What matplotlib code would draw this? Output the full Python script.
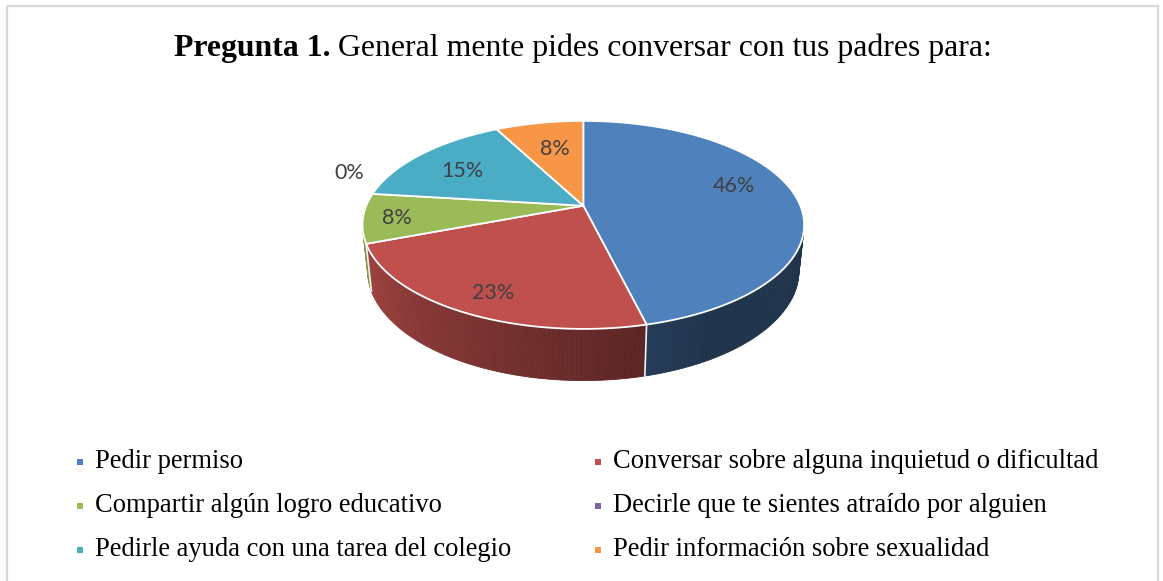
import numpy as np
import matplotlib
matplotlib.use("Agg")
import matplotlib.pyplot as plt
from matplotlib.patches import Polygon, Rectangle
from matplotlib.colors import to_rgb

# ---------------- data ----------------
categories = [
    "Pedir permiso",
    "Conversar sobre alguna inquietud o dificultad",
    "Compartir algún logro educativo",
    "Decirle que te sientes atraído por alguien",
    "Pedirle ayuda con una tarea del colegio",
    "Pedir información sobre sexualidad",
]
counts = [6, 3, 1, 0, 2, 1]
colors = ["#4F81BD", "#C0504D", "#9BBB59", "#8064A2", "#4BACC6", "#F79646"]
title_bold = "Pregunta 1."
title_rest = " General mente pides conversar con tus padres para:"

# label placement style (radius fraction, angular offset in degrees)
label_r = [0.75, 0.83, 0.85, 1.2, 0.70, 0.65]
label_dth = [-9, -2, -1, 10, -3, 1]

# ---------------- figure ----------------
W, H = 1163, 581
fig = plt.figure(figsize=(W / 100, H / 100), dpi=100)
ax = fig.add_axes([0, 0, 1, 1])
ax.set_xlim(0, W)
ax.set_ylim(H, 0)
ax.axis("off")

ax.add_patch(Rectangle((6.5, 5.5), 1151.5, 620, fill=False, ec="#D9D9D9", lw=1.6))

# 3D pie geometry (pixel space)
CX, CY, R = 583.3, 205.7, 217.0
SA = 0.463
CA = np.sqrt(1 - SA ** 2)
DIST = 4.80
DEPTH = 0.24


def proj(theta_deg, r=1.0, h=0.0):
    th = np.radians(theta_deg)
    u = r * np.sin(th)
    v = -r * np.cos(th)
    s = -v * SA + h * CA
    t = v * CA + h * SA
    k = DIST / (DIST - t)
    return CX + u * k * R, CY - s * k * R


def shade(th):
    return 0.40 + 0.43 * np.clip((th - 150.0) / 100.0, 0, 1)


total = float(sum(counts))
fracs = [c / total for c in counts]
starts = np.concatenate([[0], np.cumsum(fracs)[:-1]]) * 360
ends = np.cumsum(fracs) * 360

vmin = 1.0 / (DIST * CA)
th_lo = np.degrees(np.arccos(-vmin))
th_hi = 360 - th_lo

# sides
for i, (a0, a1) in enumerate(zip(starts, ends)):
    if counts[i] == 0:
        continue
    lo, hi = max(a0, th_lo), min(a1, th_hi)
    if hi <= lo:
        continue
    n = max(2, int(np.ceil(hi - lo)))
    ths = np.linspace(lo, hi, n + 1)
    base = np.array(to_rgb(colors[i]))
    for t1, t2 in zip(ths[:-1], ths[1:]):
        col = np.clip(base * shade(0.5 * (t1 + t2)), 0, 1)
        pts = [proj(t1), proj(t2), proj(t2, h=-DEPTH), proj(t1, h=-DEPTH)]
        ax.add_patch(Polygon(pts, closed=True, fc=col, ec=col, lw=0.6))
# side boundaries
for a in starts:
    if th_lo < a < th_hi:
        p1, p2 = proj(a), proj(a, h=-DEPTH)
        ax.plot([p1[0], p2[0]], [p1[1], p2[1]], color="#F2F2F2", lw=1.2)

# top faces
for i, (a0, a1) in enumerate(zip(starts, ends)):
    if counts[i] == 0:
        continue
    n = max(4, int(np.ceil((a1 - a0) * 2)))
    ths = np.linspace(a0, a1, n + 1)
    pts = [(CX, CY)] + [proj(t) for t in ths]
    ax.add_patch(Polygon(pts, closed=True, fc=colors[i], ec="white", lw=1.3,
                         joinstyle="round"))

# data labels
for i, (a0, a1) in enumerate(zip(starts, ends)):
    mid = 0.5 * (a0 + a1) + label_dth[i]
    x, y = proj(mid, r=label_r[i])
    ax.text(x, y, f"{round(100 * fracs[i])}%", ha="center", va="center",
            fontsize=15.5, color="#404040", family="Lato")

# title
fig.canvas.draw()
r = fig.canvas.get_renderer()
t1 = ax.text(0, 56, title_bold, fontsize=22.9, fontweight="bold",
             family="Liberation Serif", va="baseline", ha="left", color="black")
t2 = ax.text(0, 56, title_rest, fontsize=22.9, family="Liberation Serif",
             va="baseline", ha="left", color="black")
w1 = t1.get_window_extent(r).width
w2 = t2.get_window_extent(r).width
x0 = 583 - (w1 + w2) / 2
t1.set_x(x0)
t2.set_x(x0 + w1)

# legend (manual grid)
col_x = [80, 598]
row_y = [462, 506, 550]
for i, lab in enumerate(categories):
    rr, cc = i // 2, i % 2
    ax.scatter([col_x[cc]], [row_y[rr]], marker="s", s=20, color=colors[i], lw=0)
    ax.text(col_x[cc] + 15, row_y[rr] + 6.5, lab, fontsize=19.1, family="Liberation Serif",
            va="baseline", ha="left", color="black")

fig.savefig("out.png", dpi=100)
